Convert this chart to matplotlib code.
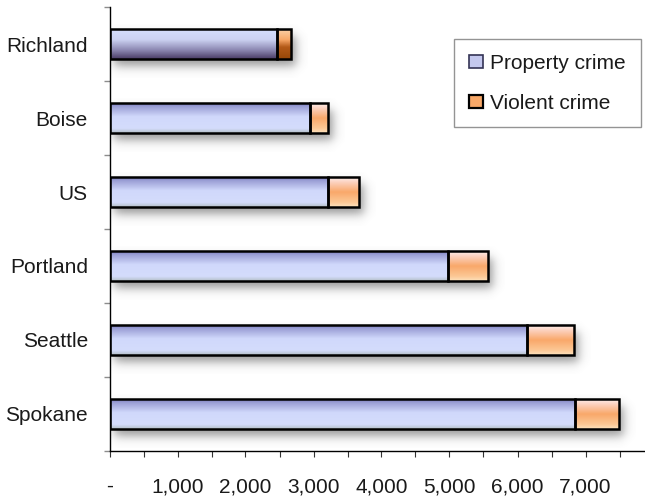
import numpy as np
import matplotlib
matplotlib.use("Agg")
import matplotlib.pyplot as plt
from matplotlib.patches import Patch
from matplotlib.colors import to_rgb
from matplotlib.ticker import FixedLocator, FuncFormatter

plt.rcParams['font.family'] = ['Liberation Sans', 'DejaVu Sans']

# Crime rates per 100,000 residents
categories = ['Richland', 'Boise', 'US', 'Portland', 'Seattle', 'Spokane']
property_crime = [2460, 2950, 3210, 4980, 6140, 6840]
violent_crime = [210, 270, 460, 590, 685, 655]
series_names = ['Property crime', 'Violent crime']
x_ticks = [0, 1000, 2000, 3000, 4000, 5000, 6000, 7000]

W, H, DPI = 645, 498, 100
fig = plt.figure(figsize=(W / DPI, H / DPI), dpi=DPI, facecolor='white')
ax = fig.add_axes([109.5 / W, (H - 450.7) / H, (W - 109.5) / W, 443.4 / H])
ax.set_facecolor('white')

XMAX = 7875
ax.set_xlim(0, XMAX)
ax.set_ylim(len(categories) - 0.5, -0.5)

px_x = XMAX / (W - 109.5)      # data units per pixel, x
px_y = len(categories) / 443.4  # data units per pixel, y
BAR_H = 0.405
FS = 15


def gradient_image(stops, n=64):
    pos = np.array([s[0] for s in stops])
    cols = np.array([to_rgb(s[1]) for s in stops])
    t = np.linspace(0, 1, n)
    rgb = np.stack([np.interp(t, pos, cols[:, k]) for k in range(3)], axis=-1)
    return rgb[:, None, :]


prop_stops = [(0, '#7c7ebf'), (0.12, '#9ca0d6'), (0.45, '#d0d8fb'),
              (0.85, '#d4dcfc'), (1.0, '#b4c0c8')]
viol_stops = [(0, '#fdf0ec'), (0.15, '#fcd4c4'), (0.5, '#f9a86a'),
              (0.85, '#fcc896'), (1.0, '#fde2bc')]
prop_stops_first = [(0, '#d6defd'), (0.35, '#ccd2f2'), (0.7, '#8c88b2'),
                    (1.0, '#4a3c66')]
viol_stops_first = [(0, '#fcd2a8'), (0.35, '#f8a868'), (0.6, '#b45a18'),
                    (1.0, '#984808')]


def draw_shadow(x0, x1, yc):
    # soft drop shadow, offset down/right of the bar
    ox, oy = 4 * px_x, 7 * px_y
    bx, by = 3.0 * px_x, 3.0 * px_y
    top, bot = yc - BAR_H / 2 + oy, yc + BAR_H / 2 + oy
    left, right = x0 + ox, x1 + ox
    ex = np.linspace(left - 4 * bx, right + 4 * bx, 400)
    ey = np.linspace(top - 4 * by, bot + 4 * by, 80)
    ax_ = 1 / (1 + np.exp(-(ex - left) / bx)) * 1 / (1 + np.exp((ex - right) / bx))
    ay_ = 1 / (1 + np.exp(-(ey - top) / by)) * 1 / (1 + np.exp((ey - bot) / by))
    alpha = 0.6 * ay_[:, None] * ax_[None, :]
    img = np.zeros((len(ey), len(ex), 4))
    img[..., :3] = 0.33
    img[..., 3] = alpha
    ax.imshow(img, extent=(ex[0], ex[-1], ey[-1], ey[0]), origin='upper',
              aspect='auto', zorder=1, interpolation='bilinear')


y = np.arange(len(categories))
totals = [p + v for p, v in zip(property_crime, violent_crime)]
for i in range(len(categories)):
    draw_shadow(0, totals[i], y[i])

bars_p = ax.barh(y, property_crime, height=BAR_H, color='none',
                 edgecolor='black', linewidth=1.8, zorder=3)
bars_v = ax.barh(y, violent_crime, left=property_crime, height=BAR_H,
                 color='none', edgecolor='black', linewidth=1.8, zorder=3)

for i, (bp, bv) in enumerate(zip(bars_p, bars_v)):
    for bar, stops in ((bp, prop_stops_first if i == 0 else prop_stops),
                       (bv, viol_stops_first if i == 0 else viol_stops)):
        x0, yb = bar.get_x(), bar.get_y()
        w, h = bar.get_width(), bar.get_height()
        im = ax.imshow(gradient_image(stops), extent=(x0, x0 + w, yb + h, yb),
                       origin='upper', aspect='auto', zorder=2,
                       interpolation='bilinear')
        im.set_clip_path(bar)

ax.set_xlim(0, XMAX)
ax.set_ylim(len(categories) - 0.5, -0.5)

# axes styling
for side in ('top', 'right'):
    ax.spines[side].set_visible(False)
for side in ('left', 'bottom'):
    ax.spines[side].set_color('black')
    ax.spines[side].set_linewidth(1.0)

ax.xaxis.set_major_locator(FixedLocator(x_ticks))
ax.xaxis.set_minor_locator(FixedLocator([t + 500 for t in x_ticks]))
ax.xaxis.set_major_formatter(FuncFormatter(lambda v, p: '-' if v == 0 else f'{int(v):,}'))
ax.tick_params(axis='x', which='both', direction='out', length=4, width=0.8,
               color='#333333', labelsize=FS, pad=15, labelcolor='#1a1a1a')

ax.yaxis.set_major_locator(FixedLocator(np.arange(-0.5, len(categories), 1.0)))
ax.yaxis.set_major_formatter(FuncFormatter(lambda v, p: ''))
ax.yaxis.set_minor_locator(FixedLocator(y))
ax.set_yticks(y, categories, minor=True)
ax.tick_params(axis='y', which='major', direction='out', length=4, width=1.0,
               color='#8c8c8c')
ax.tick_params(axis='y', which='minor', length=0, labelsize=FS, pad=15.5,
               labelcolor='#1a1a1a')

handles = [Patch(facecolor='#c4c8ee', edgecolor='#333355', linewidth=1.2),
           Patch(facecolor='#f8a868', edgecolor='black', linewidth=1.6)]
leg = ax.legend(handles, series_names, loc='upper left',
                bbox_to_anchor=(454 / W, 1 - 39.3 / H), bbox_transform=fig.transFigure,
                fontsize=FS, frameon=True, fancybox=False, borderpad=0.7,
                labelspacing=1.0, handlelength=0.7, handleheight=0.6,
                handletextpad=0.35, borderaxespad=0)
leg.get_frame().set_edgecolor('#7a7a7a')
leg.get_frame().set_linewidth(1.0)
for t in leg.get_texts():
    t.set_color('#1a1a1a')

fig.savefig('out.png', dpi=DPI, facecolor='white')
